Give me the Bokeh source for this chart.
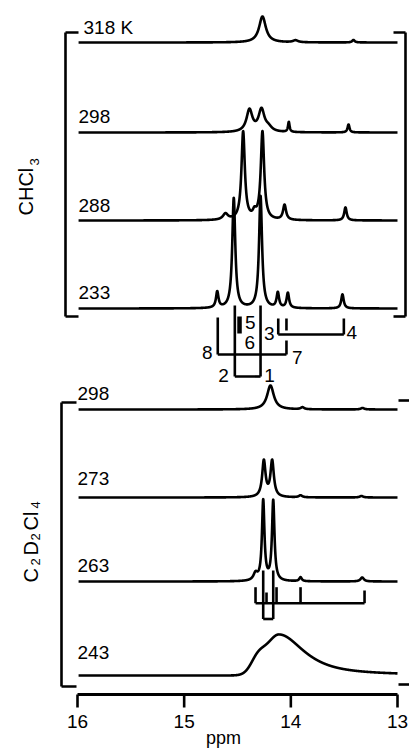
import numpy as np
from bokeh.plotting import figure
from bokeh.models import Range1d
from bokeh.core.properties import value
from bokeh.embed import file_html
from bokeh.resources import INLINE

# ---------------- data ----------------
ppm_ticks = [16, 15, 14, 13]
tick_labels = ["16", "15", "14", "13"]
x_label = "ppm"

chcl3_temps = ["318 K", "298", "288", "233"]
c2d2cl4_temps = ["298", "273", "263", "243"]

# CHCl3 spectra: peak position (ppm), height, half width (ppm)
chcl3_318_ppm = [14.266, 13.956, 13.413]
chcl3_318_h = [26, 2, 2.5]
chcl3_318_w = [0.038, 0.028, 0.014]

chcl3_298_ppm = [14.388, 14.275, 14.21, 14.019, 13.459]
chcl3_298_h = [22, 22, 4, 10, 8]
chcl3_298_w = [0.033, 0.033, 0.038, 0.009, 0.011]

chcl3_288_ppm = [14.613, 14.447, 14.341, 14.266, 14.059, 13.488]
chcl3_288_h = [6, 88, 6, 88, 15, 13]
chcl3_288_w = [0.028, 0.019, 0.019, 0.019, 0.017, 0.014]

chcl3_233_ppm = [14.690, 14.535, 14.284, 14.122, 14.028, 13.516]
chcl3_233_h = [16, 110, 112, 15, 15, 14]
chcl3_233_w = [0.014, 0.017, 0.017, 0.014, 0.014, 0.014]

# C2D2Cl4 spectra
c2d2cl4_298_ppm = [14.191, 13.891, 13.328]
c2d2cl4_298_h = [24, 2, 1.5]
c2d2cl4_298_w = [0.038, 0.019, 0.019]

c2d2cl4_273_ppm = [14.253, 14.175, 13.909, 13.338]
c2d2cl4_273_h = [36, 36, 2, 1.5]
c2d2cl4_273_w = [0.019, 0.019, 0.019, 0.019]

c2d2cl4_263_ppm = [14.331, 14.259, 14.165, 13.909, 13.331]
c2d2cl4_263_h = [7, 80, 80, 4, 4]
c2d2cl4_263_w = [0.023, 0.014, 0.014, 0.014, 0.019]

# 243 K: broad asymmetric band + low-field shoulder
c2d2cl4_243_ppm = [14.11, 14.3125]
c2d2cl4_243_h = [41, 12]
c2d2cl4_243_w_low = [0.148, 0.075]     # half width, low-field (left) side
c2d2cl4_243_w_high = [0.281, 0.075]    # half width, high-field (right) side
c2d2cl4_243_lor_low = [0.0, 0.0]       # lorentzian fraction, left side
c2d2cl4_243_lor_high = [0.85, 0.0]     # lorentzian fraction, right side

# assignment ladder, CHCl3 233 K (ppm of the linked signals)
chcl3_link_names = [("8", "7"), ("2", "1"), ("3", "4")]
chcl3_link_left = [14.685, 14.525, 14.118]
chcl3_link_right = [14.041, 14.284, 13.503]
chcl3_sig5_ppm = 14.481
chcl3_sig7_ppm = 14.041

# assignment ladder, C2D2Cl4 263 K
c2d2cl4_stick_ppm = [14.331, 14.228, 14.134, 13.909, 13.309]
c2d2cl4_pair_ppm = [14.259, 14.165]

# ---------------- layout ----------------
W, H = 409, 748
PX_PER_PPM = 320 / 3.0
X0 = 16 + 77 / PX_PER_PPM
X1 = X0 - W / PX_PER_PPM


def px(xref):          # picture pixel -> ppm
    return 16 - (xref - 77) / PX_PER_PPM


def Y(yref):           # picture pixel -> data y
    return H - yref


chcl3_offsets = [Y(42), Y(132), Y(220), Y(308)]
c2d2cl4_offsets = [Y(409), Y(497), Y(581), Y(675)]

FONT = value("Liberation Sans")
LW = 2.6

p = figure(width=W, height=H, x_range=Range1d(X0, X1), y_range=Range1d(0, H),
           output_backend="svg", toolbar_location=None, min_border=0,
           x_axis_location=None, y_axis_location=None)
p.outline_line_color = None
p.background_fill_color = "white"
p.border_fill_color = "white"
p.xgrid.grid_line_color = None
p.ygrid.grid_line_color = None
p.grid.visible = False

x = np.linspace(15.99, 13.0, 5000)


def lorentz(pos, h, w):
    y = np.zeros_like(x)
    for c, a, g in zip(pos, h, w):
        y += a * g ** 2 / ((x - c) ** 2 + g ** 2)
    return y


def split_band(pos, h, wl, wr, ll, lr):
    y = np.zeros_like(x)
    for c, a, w1, w2, e1, e2 in zip(pos, h, wl, wr, ll, lr):
        d = x - c
        left = d > 0
        w = np.where(left, w1, w2)
        eta = np.where(left, e1, e2)
        L = w ** 2 / (d ** 2 + w ** 2)
        G = np.exp(-np.log(2) * d ** 2 / w ** 2)
        y += a * (eta * L + (1 - eta) * G)
    return y


chcl3_curves = [lorentz(chcl3_318_ppm, chcl3_318_h, chcl3_318_w),
                lorentz(chcl3_298_ppm, chcl3_298_h, chcl3_298_w),
                lorentz(chcl3_288_ppm, chcl3_288_h, chcl3_288_w),
                lorentz(chcl3_233_ppm, chcl3_233_h, chcl3_233_w)]
c2d2cl4_curves = [lorentz(c2d2cl4_298_ppm, c2d2cl4_298_h, c2d2cl4_298_w),
                  lorentz(c2d2cl4_273_ppm, c2d2cl4_273_h, c2d2cl4_273_w),
                  lorentz(c2d2cl4_263_ppm, c2d2cl4_263_h, c2d2cl4_263_w),
                  split_band(c2d2cl4_243_ppm, c2d2cl4_243_h, c2d2cl4_243_w_low,
                             c2d2cl4_243_w_high, c2d2cl4_243_lor_low, c2d2cl4_243_lor_high)]

for off, yy in zip(chcl3_offsets + c2d2cl4_offsets, chcl3_curves + c2d2cl4_curves):
    p.line(x, off + yy, line_color="black", line_width=LW, line_join="round")

# temperature labels
lab_x = [px(83), px(78), px(78), px(78)]
lab_y = [Y(27), Y(116), Y(205), Y(292)]
p.text(lab_x, lab_y, text=chcl3_temps, text_font=FONT, text_font_size="19px",
       text_align="left", text_baseline="middle", text_color="black")
p.text([px(77)] * 4, [Y(393), Y(478), Y(565), Y(652)], text=c2d2cl4_temps,
       text_font=FONT, text_font_size="19px", text_align="left",
       text_baseline="middle", text_color="black")

# frame brackets
seg = dict(line_color="black", line_width=LW)
# upper panel
p.segment([px(65), px(65), px(65), px(405), px(393), px(393)],
          [Y(32), Y(32), Y(316), Y(32), Y(32), Y(316)],
          [px(65), px(78), px(78), px(405), px(405), px(405)],
          [Y(316), Y(32), Y(316), Y(316), Y(32), Y(316)], **seg)
# lower panel
p.segment([px(61), px(61), px(61), px(398), px(398)],
          [Y(402), Y(402), Y(686), Y(400), Y(684)],
          [px(61), px(76), px(76), px(409), px(409)],
          [Y(686), Y(402), Y(686), Y(400), Y(684)], **seg)

# CHCl3 assignment ladder
bar_y = [354, 376, 334]
top_l = [317, 305, 318]
top_r = [340, 305, 318]
lx0, ly0, lx1, ly1 = [], [], [], []
for a, b, yb, tl, tr in zip(chcl3_link_left, chcl3_link_right, bar_y, top_l, top_r):
    lx0 += [a, a, b]
    ly0 += [Y(tl), Y(yb), Y(yb)]
    lx1 += [a, b, b]
    ly1 += [Y(yb), Y(yb), Y(tr)]
lx0.append(chcl3_sig7_ppm); ly0.append(Y(318)); lx1.append(chcl3_sig7_ppm); ly1.append(Y(330))
p.segment(lx0, ly0, lx1, ly1, **seg)
p.segment([chcl3_sig5_ppm], [Y(316)], [chcl3_sig5_ppm], [Y(333)], line_color="black", line_width=4.5)

num_text = ["8", "7", "2", "1", "5", "6", "3", "4"]
num_x = [px(206.7), px(296.7), px(223), px(269), px(249.7), px(249.3), px(268.7), px(351.3)]
num_y = [Y(351.7), Y(356.7), Y(374.5), Y(375), Y(321.7), Y(341.7), Y(333.3), Y(331.7)]
p.text(num_x, num_y, text=num_text, text_font=FONT, text_font_size="19px",
       text_align="center", text_baseline="middle", text_color="black")

# C2D2Cl4 assignment ladder
p.segment([c2d2cl4_stick_ppm[0]], [Y(602.7)], [c2d2cl4_stick_ppm[-1]], [Y(602.7)], **seg)
tops = [586.7, 592, 586.7, 586.7, 590]
p.segment(c2d2cl4_stick_ppm, [Y(t) for t in tops], c2d2cl4_stick_ppm,
          [Y(602.7)] * len(tops), **seg)
a, b = c2d2cl4_pair_ppm
p.segment([a, b, a], [Y(570), Y(570), Y(618.5)], [a, b, b], [Y(618.5), Y(618.5), Y(618.5)], **seg)

# x axis (drawn through the ppm scale)
p.segment([ppm_ticks[0]], [Y(694)], [ppm_ticks[-1]], [Y(694)], line_color="black", line_width=2.8)
p.segment(ppm_ticks, [Y(694)] * 4, ppm_ticks, [Y(707)] * 4, line_color="black", line_width=2.6)
p.text(ppm_ticks, [Y(721)] * 4, text=tick_labels, text_font=FONT, text_font_size="19px",
       text_align="center", text_baseline="middle", text_color="black")
p.text([px(223)], [Y(737)], text=[x_label], text_font=FONT, text_font_size="18px",
       text_align="center", text_baseline="middle", text_color="black")

# rotated solvent labels with subscripts
rot = dict(angle=np.pi / 2, text_font=FONT, text_align="left",
           text_baseline="alphabetic", text_color="black")
p.text([px(25)], [Y(215)], text=["CHCl"], text_font_size="20px", **rot)
p.text([px(34)], [Y(165)], text=["3"], text_font_size="13px", **rot)

c_parts = ["C", "2", "D", "2", "Cl", "4"]
c_sub = [False, True, False, True, False, True]
c_start = [582, 565, 555, 540, 530, 508]
for t, s, y0 in zip(c_parts, c_sub, c_start):
    p.text([px(35) if s else px(30)], [Y(y0)], text=[t],
           text_font_size="13px" if s else "20px", **rot)

open("out.html", "w").write(file_html(p, INLINE))
